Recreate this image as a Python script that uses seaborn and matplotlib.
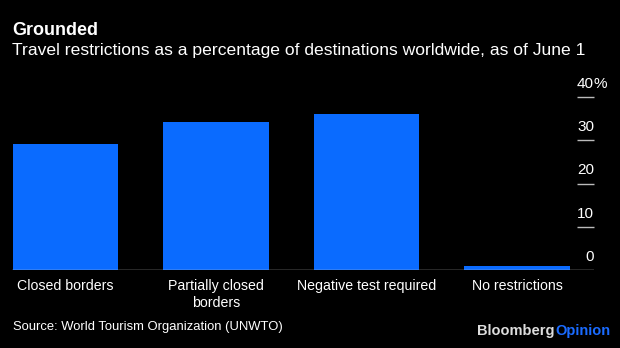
import matplotlib
matplotlib.use("Agg")
import matplotlib.pyplot as plt
import matplotlib.transforms as mtransforms
import seaborn as sns
import pandas as pd

categories = ["Closed borders", "Partially closed\nborders", "Negative test required", "No restrictions"]
values = [29.1, 34.1, 36.1, 1.0]
yticks = [0, 10, 20, 30, 40]
ytick_labels = ["0", "10", "20", "30", "40"]

title = "Grounded"
subtitle = "Travel restrictions as a percentage of destinations worldwide, as of June 1"
source = "Source: World Tourism Organization (UNWTO)"

sns.set_style("dark")
plt.rcParams["font.family"] = ["Liberation Sans", "DejaVu Sans"]

W, H = 620, 348
fig = plt.figure(figsize=(W / 100, H / 100), dpi=100, facecolor="black")
ax = fig.add_axes([12 / W, (H - 270.3) / H, (594 - 12) / W, 173.6 / H])
ax.set_facecolor("black")

df = pd.DataFrame({"cat": categories, "val": values})
sns.barplot(data=df, x="cat", y="val", color="#0A6BFF", saturation=1, width=0.7,
            linewidth=0, edgecolor="none", ax=ax)

ax.set_xlim(-0.3555, 3.512)
ax.set_ylim(0, 40)
ax.set_xlabel("")
ax.set_ylabel("")
ax.grid(False)
for s in ax.spines.values():
    s.set_visible(False)
ax.axhline(0, color="#cccccc", lw=1.0, zorder=5)
ax.tick_params(axis="x", length=0, pad=6, colors="white", labelsize=10)
ax.set_xticks(range(len(categories)))
ax.set_xticklabels(categories, color="white", fontsize=10.2, linespacing=1.35)
ax.set_yticks([])

# right side tick marks and labels
ytr = ax.get_yaxis_transform()
x0 = (577 - 12) / (594 - 12)
ax.hlines([t for t in yticks if t > 0], x0, 1.0, transform=ytr, color="#bbbbbb", lw=1.0, clip_on=False)
off = mtransforms.offset_copy(ytr, fig=fig, x=0, y=13, units="dots")
for t, lab in zip(yticks, ytick_labels):
    ax.text(1.0, t, lab, transform=off, ha="right", va="center", color="white", fontsize=11, clip_on=False)
    if t == 40:
        ax.text(1.0, t, "%", transform=off, ha="left", va="center", color="white", fontsize=11, clip_on=False)

fig.text(12 / W, 1 - 35 / H, title, color="white", fontsize=13, fontweight="bold", va="baseline", ha="left")
fig.text(12 / W, 1 - 55 / H, subtitle, color="white", fontsize=12.6, va="baseline", ha="left")
fig.text(13 / W, 1 - 327 / H, source, color="white", fontsize=9.4, va="center", ha="left")
fig.text(554 / W, 1 - 331 / H, "Bloomberg", color="#dddddd", fontsize=10.5, fontweight="bold", va="center", ha="right")
fig.text(555 / W, 1 - 331 / H, "Opinion", color="#1A6BFF", fontsize=10.5, fontweight="bold", va="center", ha="left")

fig.savefig("out.png", dpi=100, facecolor="black")
